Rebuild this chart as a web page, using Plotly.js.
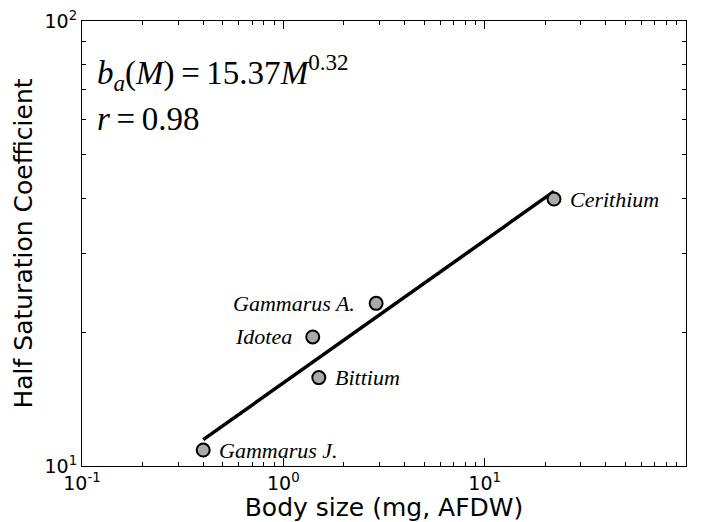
<!DOCTYPE html>
<html>
<head>
<meta charset="utf-8">
<script src="https://cdn.plot.ly/plotly-3.0.1.min.js"></script>
<style>html,body{margin:0;padding:0;background:#fff;}#chart{width:702px;height:522px;}</style>
</head>
<body>
<div id="chart"></div>
<script>
// Data
var species = ["Gammarus J.", "Idotea", "Bittium", "Gammarus A.", "Cerithium"];
var bodySize = [0.40, 1.40, 1.50, 2.89, 22.1];
var halfSat = [10.86, 19.5, 15.8, 23.2, 39.8];
var labelSide = ["right", "left", "right", "left", "right"];
var fitX = [0.40, 22.1];
var fitY = [11.46, 41.4];
var xTickVals = [0.1, 1, 10, 100];
var xTickText = ["10<sup>-1</sup>", "10<sup>0</sup>", "10<sup>1</sup>", "10<sup>2</sup>"];
var xMinorVals = [0.2, 0.3, 0.4, 0.5, 0.6, 0.7, 0.8, 0.9, 2, 3, 4, 5, 6, 7, 8, 9, 20, 30, 40, 50, 60, 70, 80, 90];
var yTickVals = [10, 100];
var yTickText = ["10<sup>1</sup>", "10<sup>2</sup>"];
var yMinorVals = [20, 30, 40, 50, 60, 70, 80, 90];
var eqText = "<i>b</i><sub><i>a</i></sub>(<i>M</i>)\u2009=\u200915.37<i>M</i><sup>0.32</sup>";
var rText = "<i>r</i>\u2009=\u20090.98";

var serif = "Liberation Serif, DejaVu Serif, serif";
var sans = "DejaVu Sans, sans-serif";

var traces = [
  {x: fitX, y: fitY, mode: "lines", type: "scatter",
   line: {color: "#000", width: 3.5}, hoverinfo: "skip"},
  {x: bodySize, y: halfSat, mode: "markers", type: "scatter",
   marker: {size: 13, color: "#aaaaaa", line: {color: "#000", width: 2}}}
];

var annotations = species.map(function (s, i) {
  var right = labelSide[i] === "right";
  return {x: Math.log10(bodySize[i]), y: Math.log10(halfSat[i]), xref: "x", yref: "y",
    text: "<i>" + s + "</i>", showarrow: false,
    xanchor: right ? "left" : "right", yanchor: "middle",
    xshift: right ? 14 : -19,
    font: {family: serif, size: 22, color: "#000"}};
});
annotations.push({x: 0.022, y: 0.885, xref: "paper", yref: "paper", text: eqText,
  showarrow: false, xanchor: "left", yanchor: "middle",
  font: {family: serif, size: 33, color: "#000"}});
annotations.push({x: 0.022, y: 0.78, xref: "paper", yref: "paper", text: rText,
  showarrow: false, xanchor: "left", yanchor: "middle",
  font: {family: serif, size: 33, color: "#000"}});

var axisCommon = {
  type: "log", showgrid: false, zeroline: false, showline: true,
  linecolor: "#000", linewidth: 1, mirror: "allticks",
  ticks: "inside", ticklen: 8, tickwidth: 1, tickcolor: "#000",
  tickfont: {family: sans, size: 19, color: "#000"}
};

var layout = {
  width: 702, height: 522,
  margin: {l: 82, r: 16, t: 21, b: 56},
  paper_bgcolor: "#fff", plot_bgcolor: "#fff",
  showlegend: false,
  xaxis: Object.assign({}, axisCommon, {
    range: [-1, 2], tickvals: xTickVals, ticktext: xTickText,
    minor: {tickmode: "array", tickvals: xMinorVals, ticks: "inside", ticklen: 4, tickwidth: 1, tickcolor: "#000", showgrid: false},
    title: {text: "Body size (mg, AFDW)", font: {family: sans, size: 25, color: "#000"}, standoff: 6}
  }),
  yaxis: Object.assign({}, axisCommon, {
    range: [1, 2], tickvals: yTickVals, ticktext: yTickText,
    minor: {tickmode: "array", tickvals: yMinorVals, ticks: "inside", ticklen: 4, tickwidth: 1, tickcolor: "#000", showgrid: false},
    title: {text: "Half Saturation Coefficient", font: {family: sans, size: 25, color: "#000"}, standoff: 4}
  }),
  annotations: annotations
};

Plotly.newPlot("chart", traces, layout, {displayModeBar: false, staticPlot: true});
</script>
</body>
</html>
